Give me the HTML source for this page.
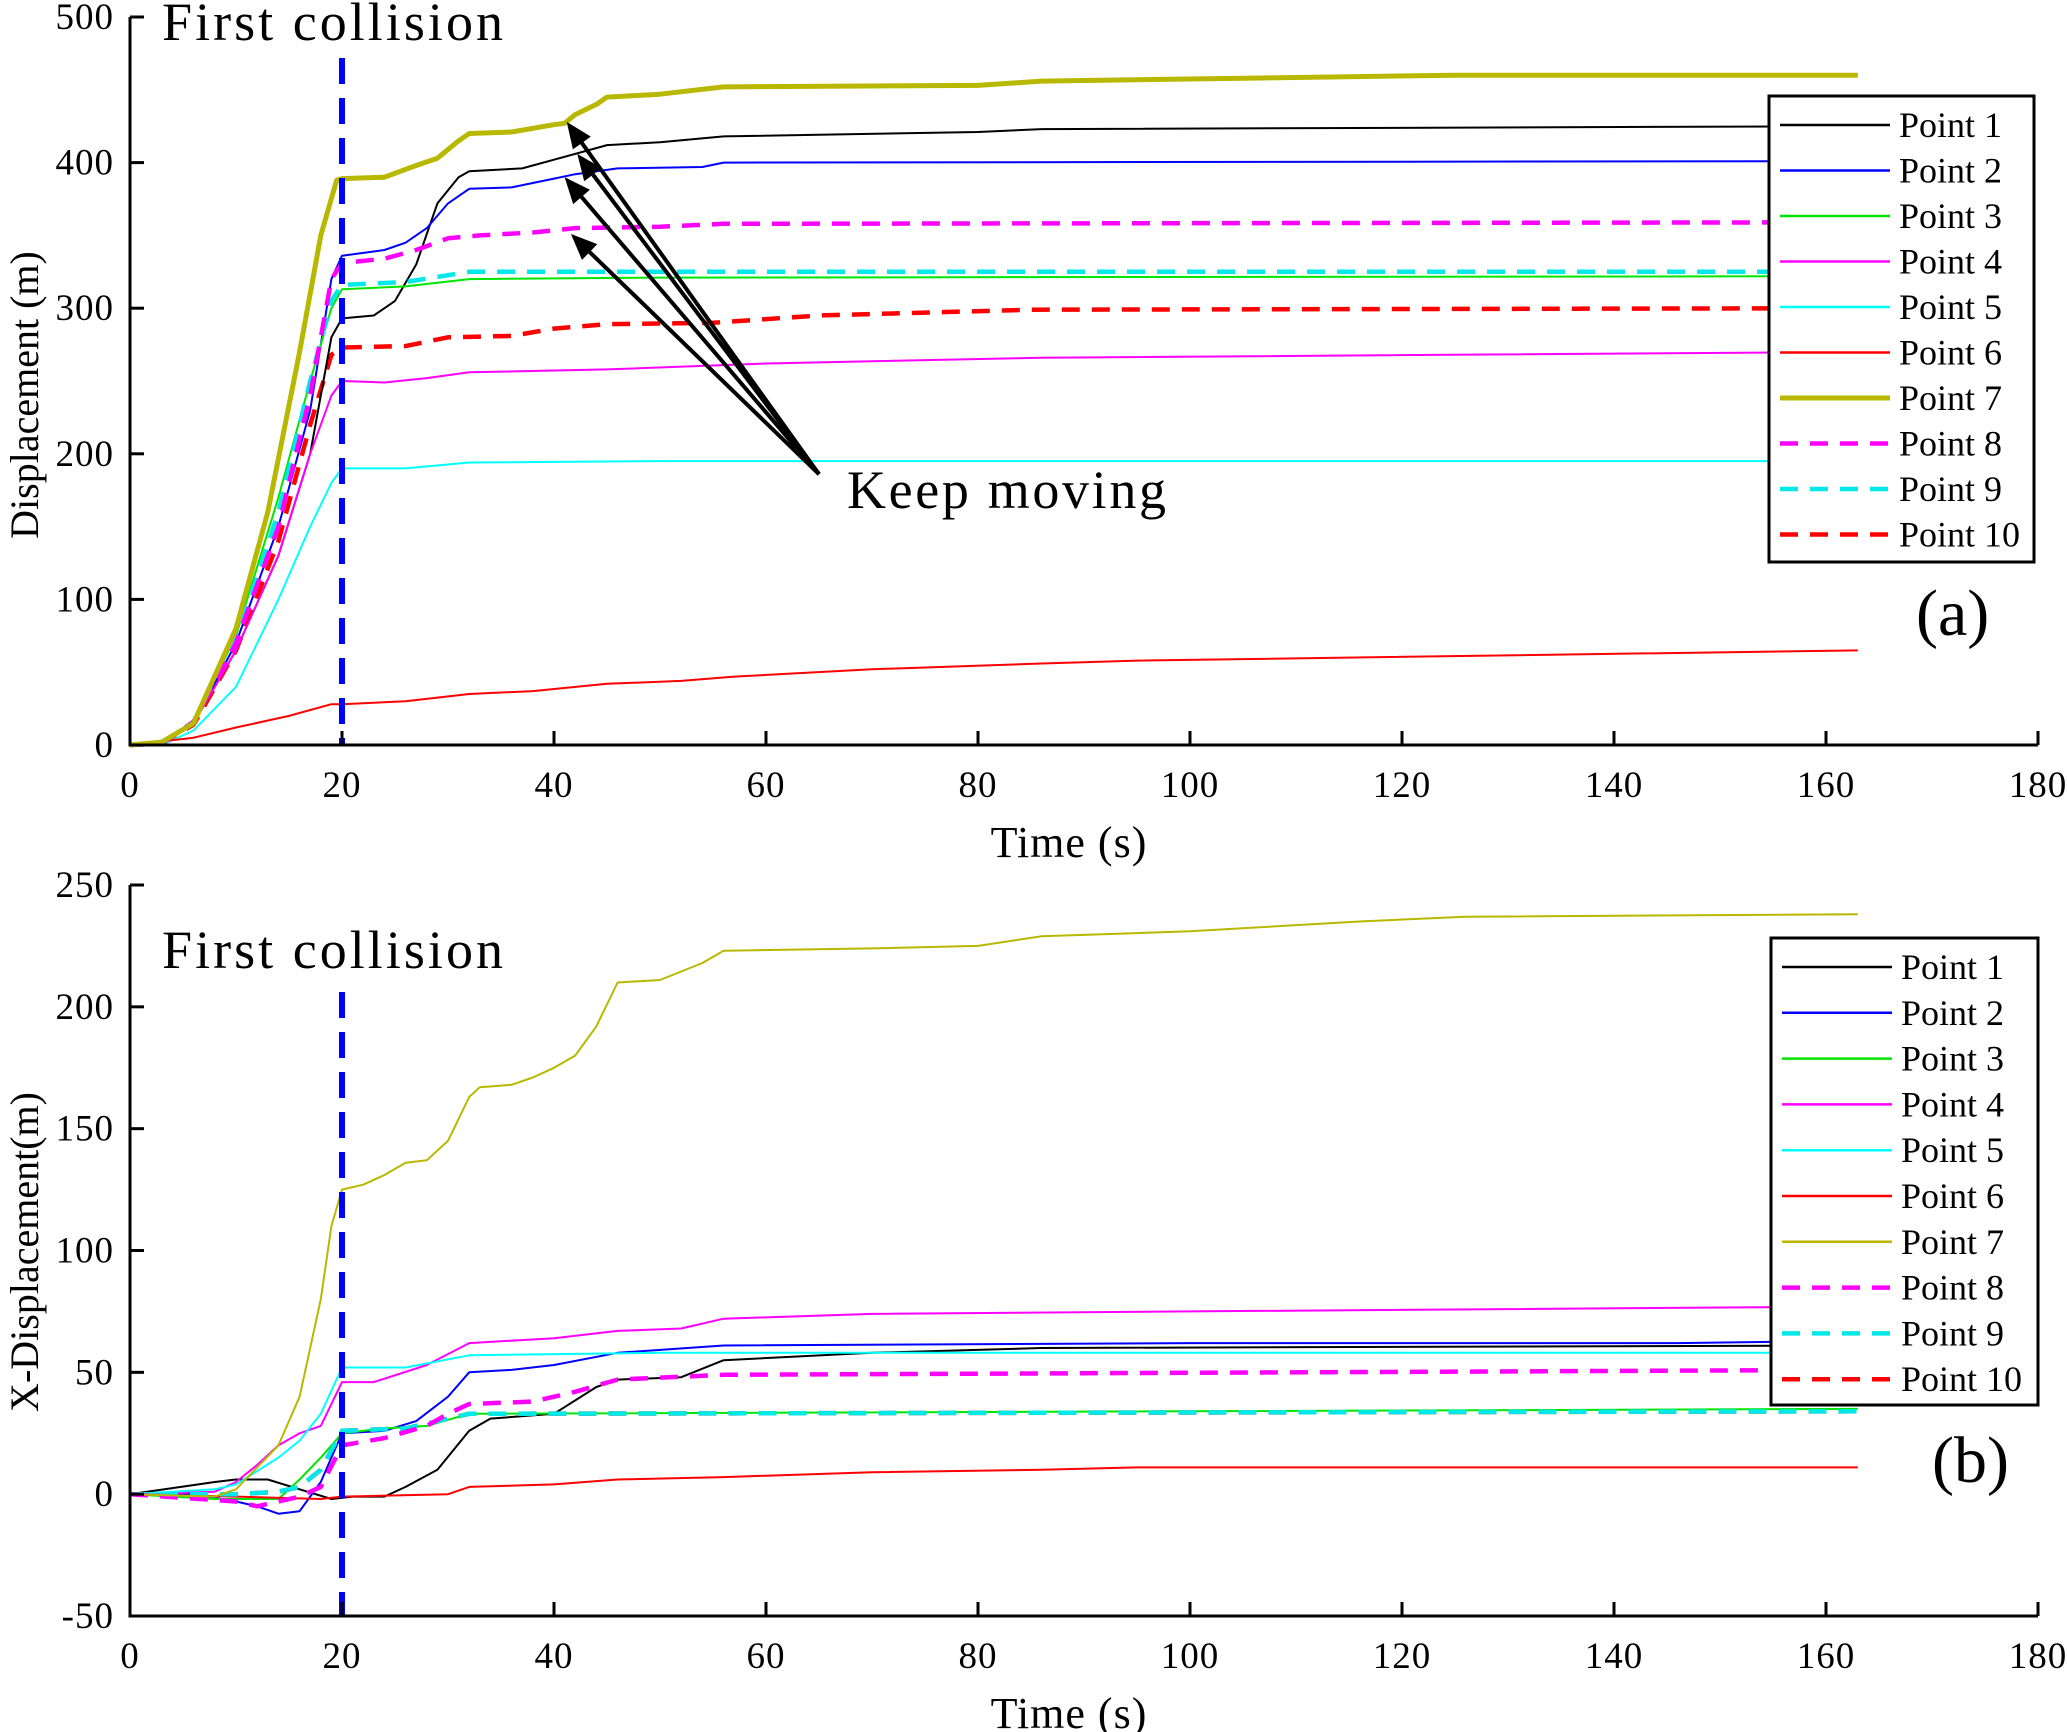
<!DOCTYPE html>
<html><head><meta charset="utf-8"><style>
html,body{margin:0;padding:0;background:#fff;}
svg{display:block;font-family:"Liberation Serif",serif;}
</style></head><body>
<svg id="chart" width="2067" height="1732" viewBox="0 0 2067 1732" xmlns="http://www.w3.org/2000/svg"></svg>
<script>
// ---- data ----
const seriesNames = ["Point 1","Point 2","Point 3","Point 4","Point 5","Point 6","Point 7","Point 8","Point 9","Point 10"];
const xTicks = [0,20,40,60,80,100,120,140,160,180];
const yTicksA = [0,100,200,300,400,500];
const yTicksB = [-50,0,50,100,150,200,250];
const collisionTime = 20;

// panel (a): total displacement, [time, value] pairs
const a_p1 = [[0,0],[3,1],[6,15],[10,65],[14,130],[17,200],[19,280],[20,293],[23,295],[25,305],[27,330],[29,372],[31,390],[32,394],[37,396],[40,402],[43,408],[45,412],[50,414],[56,418],[80,421],[86,423],[163,425]];
const a_p2 = [[0,0],[3,1],[6,15],[10,70],[14,150],[17,230],[19,320],[20,336],[24,340],[26,345],[28,355],[30,372],[32,382],[36,383],[40,389],[42,392],[46,396],[54,397],[56,400],[163,401]];
const a_p3 = [[0,0],[3,1],[6,16],[10,75],[14,170],[17,250],[19,300],[20,313],[26,315],[32,320],[50,321],[163,322]];
const a_p4 = [[0,0],[3,1],[6,15],[10,65],[14,130],[17,200],[19,240],[20,250],[24,249],[28,252],[32,256],[45,258],[60,262],[86,266],[163,270]];
const a_p5 = [[0,0],[3,0],[6,10],[10,40],[14,100],[17,150],[19,180],[20,190],[26,190],[32,194],[50,195],[163,195]];
const a_p6 = [[0,0],[6,5],[10,12],[15,20],[19,28],[20,28],[26,30],[32,35],[38,37],[45,42],[52,44],[57,47],[70,52],[86,56],[95,58],[163,65]];
const a_p7 = [[0,0],[3,2],[6,15],[10,80],[13,160],[16,270],[18,350],[19.5,388],[20,389],[24,390],[27,398],[29,403],[31,415],[32,420],[36,421],[40,426],[41,427],[42,433],[44,440],[45,445],[50,447],[56,452],[80,453],[86,456],[125,460],[163,460]];
const a_p8 = [[0,0],[3,1],[6,16],[10,70],[14,150],[17,240],[19,320],[20,331],[24,334],[27,340],[30,348],[33,350],[38,352],[42,355],[50,356],[56,358],[163,359]];
const a_p9 = [[0,0],[3,1],[6,16],[10,72],[14,160],[17,250],[19,305],[20,316],[26,318],[32,325],[163,325]];
const a_p10 = [[0,0],[3,1],[6,14],[10,65],[14,140],[17,220],[19,268],[20,273],[26,274],[30,280],[36,281],[40,286],[45,289],[55,290],[65,295],[85,299],[163,300]];

// panel (b): x-displacement
const b_p1 = [[0,0],[8,5],[10,6],[13,6],[16,2],[19,-2],[21,-1],[24,-1],[26,3],[29,10],[32,26],[34,31],[40,33],[44,44],[46,47],[52,48],[56,55],[70,58],[86,60],[163,61]];
const b_p2 = [[0,0],[6,0],[10,-3],[12,-5],[14,-8],[16,-7],[18,5],[19,15],[20,25],[24,26],[27,30],[30,40],[32,50],[36,51],[40,53],[46,58],[56,61],[100,62],[146,62],[163,63]];
const b_p3 = [[0,0],[8,-2],[14,-2],[16,6],[18,15],[20,25],[24,27],[28,28],[32,33],[163,35]];
const b_p4 = [[0,0],[8,1],[10,5],[12,12],[14,20],[16,25],[18,28],[20,46],[23,46],[28,53],[32,62],[40,64],[46,67],[52,68],[56,72],[70,74],[100,75],[163,77]];
const b_p5 = [[0,0],[8,2],[10,4],[14,15],[16,22],[18,33],[20,52],[26,52],[32,57],[50,58],[163,58]];
const b_p6 = [[0,0],[10,-1],[18,-2],[20,-1],[30,0],[32,3],[40,4],[46,6],[56,7],[70,9],[86,10],[95,11],[163,11]];
const b_p7 = [[0,0],[8,-1],[10,2],[14,20],[16,40],[18,80],[19,110],[20,125],[22,127],[24,131],[26,136],[28,137],[30,145],[32,163],[33,167],[36,168],[38,171],[40,175],[42,180],[44,192],[46,210],[50,211],[54,218],[56,223],[70,224],[80,225],[86,229],[100,231],[116,235],[126,237],[163,238]];
const b_p8 = [[0,0],[10,-3],[12,-5],[14,-3],[16,-1],[18,3],[20,20],[24,23],[28,28],[30,33],[32,37],[38,38],[42,42],[46,47],[56,49],[163,51]];
const b_p9 = [[0,0],[10,0],[14,1],[16,3],[18,10],[20,26],[26,27],[32,33],[163,34]];
const b_p10 = [[0,0],[10,0],[14,1],[16,3],[18,10],[20,26],[26,27],[32,33],[163,34]];

// arrow targets in panel (a): [time, displacement]
const arrowTargets = [[41.2,428],[42.2,406],[41,390],[41.6,351]];
const arrowOrigin = [65,186];

// ---- rendering ----
const NS="http://www.w3.org/2000/svg";
const svg=document.getElementById('chart');
function el(tag,attrs,parent){const e=document.createElementNS(NS,tag);for(const k in attrs)e.setAttribute(k,attrs[k]);(parent||svg).appendChild(e);return e;}
const styles=[
 {c:"#000000",w:2,d:"",lw:2.5},{c:"#0000ff",w:2,d:"",lw:2.5},{c:"#00e600",w:2,d:"",lw:2.5},{c:"#ff00ff",w:2,d:"",lw:2.5},{c:"#00ffff",w:2,d:"",lw:2.5},
 {c:"#ff0000",w:2,d:"",lw:2.5},{c:"#b8b800",w:5,d:"",lw:5},{c:"#ff00ff",w:4.5,d:"18 12",lw:4.5},{c:"#00e8e8",w:4.5,d:"18 12",lw:4.5},{c:"#ff0000",w:4.5,d:"18 12",lw:4.5}];

function panel(o){
 const g=el('g',{});
 
 
 const X=v=>o.x0+(v-0)*(o.x1-o.x0)/180;
 const Y=v=>o.yb+(v-o.ymin)*(o.yt-o.yb)/(o.ymax-o.ymin);
 const order=[9,0,1,2,3,4,5,8,7,6];
 for(const i of order){
  const pts=o.data[i];const st=styles[i];
  const w=(o.thin && i===6)?2:st.w;
  const p=el('path',{d:pts.map((q,j)=>(j?'L':'M')+X(q[0]).toFixed(1)+','+Y(q[1]).toFixed(1)).join(''),fill:'none',stroke:st.c,'stroke-width':w,'stroke-dasharray':st.d,'stroke-linejoin':'round'},g);
  
  
 }
 const cl=el('line',{x1:X(collisionTime),x2:X(collisionTime),y1:o.clTop,y2:o.yb,stroke:'#0000ff','stroke-width':6,'stroke-dasharray':'26 14'},g);
 
 
 const ax=el('path',{d:`M${o.x0},${o.yt}V${o.yb}H${o.x1}`,fill:'none',stroke:'#000','stroke-width':3},g);
 
 
 for(const t of xTicks){
  el('line',{x1:X(t),x2:X(t),y1:o.yb,y2:o.yb-14,stroke:'#000','stroke-width':3},g);
  const tx=el('text',{x:X(t),y:o.yb+52,'font-size':37,'text-anchor':'middle',fill:'#000','letter-spacing':1},g);
  tx.textContent=t;
  
  
 }
 for(const t of o.yTicks){
  el('line',{x1:o.x0,x2:o.x0+14,y1:Y(t),y2:Y(t),stroke:'#000','stroke-width':3},g);
  const ty=el('text',{x:o.x0-16,y:Y(t)+12,'font-size':37,'text-anchor':'end',fill:'#000','letter-spacing':1},g);
  ty.textContent=t;
  
  
 }
 const xt=el('text',{x:1069,y:o.yb+112,'font-size':44,'text-anchor':'middle',fill:'#000','letter-spacing':1},g);
 xt.textContent='Time (s)';
 
 
 const yt=el('text',{x:0,y:0,'font-size':40,'text-anchor':'middle',fill:'#000',transform:`translate(38,${o.ytitleY}) rotate(-90)`},g);
 yt.textContent=o.ytitle;
 
 
 const fc=el('text',{x:162,y:o.fcY,'font-size':54,fill:'#000',textLength:341,lengthAdjust:'spacing'},g);
 fc.textContent='First collision';
 
 
 const pl=el('text',{x:o.plX,y:o.plY,'font-size':66,fill:'#000'},g);
 pl.textContent=o.plabel;
 
 
 const lg=el('g',{},g);
 
 
 el('rect',{x:o.lg.x,y:o.lg.y,width:o.lg.w,height:o.lg.h,fill:'#fff',stroke:'#000','stroke-width':3},lg);
 for(let i=0;i<10;i++){
  const yy=o.lg.r0+i*o.lg.dr;const st=styles[i];
  const w=(o.thin && i===6)?2.5:st.lw;
  const e=el('g',{},lg);
  
  
  el('line',{x1:o.lg.x+11,x2:o.lg.x+121,y1:yy,y2:yy,stroke:st.c,'stroke-width':w,'stroke-dasharray':st.d},e);
  const t=el('text',{x:o.lg.x+130,y:yy+12,'font-size':36,fill:'#000'},e);
  t.textContent=seriesNames[i];
 }
 return {X,Y,g};
}

const A=panel({name:'panel-a',x0:130,x1:2038,yt:17,yb:745,ymin:0,ymax:500,yTicks:yTicksA,
 data:[a_p1,a_p2,a_p3,a_p4,a_p5,a_p6,a_p7,a_p8,a_p9,a_p10],clTop:58,ytitle:'Displacement (m)',ytitleY:395,
 fcY:40,plabel:'(a)',plX:1916,plY:635,lg:{x:1769,y:96,w:265,h:466,r0:125,dr:45.5}});
const B=panel({name:'panel-b',x0:130,x1:2038,yt:885,yb:1616,ymin:-50,ymax:250,yTicks:yTicksB,thin:true,
 data:[b_p1,b_p2,b_p3,b_p4,b_p5,b_p6,b_p7,b_p8,b_p9,b_p10],clTop:992,ytitle:'X-Displacement(m)',ytitleY:1252,
 fcY:968,plabel:'(b)',plX:1932,plY:1482,lg:{x:1771,y:938,w:267,h:467,r0:967,dr:45.8}});

const ox=A.X(arrowOrigin[0]), oy=A.Y(arrowOrigin[1]);
for(const t of arrowTargets){
 const tx=A.X(t[0]), ty=A.Y(t[1]);
 const dx=tx-ox, dy=ty-oy, L=Math.hypot(dx,dy), ux=dx/L, uy=dy/L;
 const bx=tx-ux*26, by=ty-uy*26;
 const ag=el('g',{});
 
 
 el('line',{x1:ox,y1:oy,x2:bx,y2:by,stroke:'#000','stroke-width':4},ag);
 el('polygon',{points:`${tx},${ty} ${bx-uy*11},${by+ux*11} ${bx+uy*11},${by-ux*11}`,fill:'#000'},ag);
}
const km=el('text',{x:847,y:508,'font-size':54,fill:'#000',textLength:319,lengthAdjust:'spacing'});
km.textContent='Keep moving';


</script>
</body></html>
